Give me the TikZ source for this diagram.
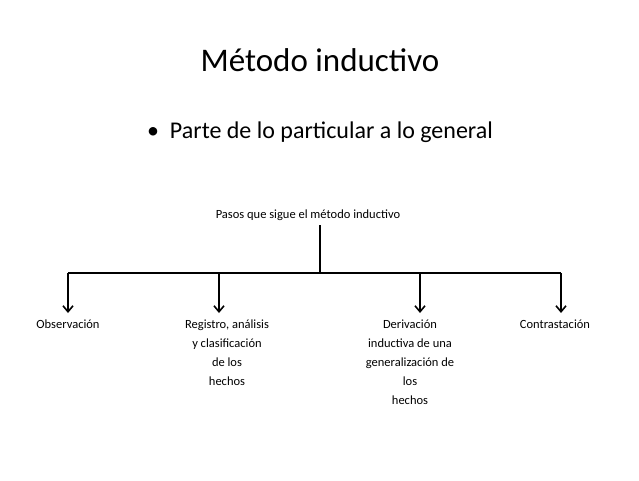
\documentclass[tikz,border=0pt]{standalone}
\usepackage{fontspec}
\setmainfont{Carlito}
\usetikzlibrary{arrows.meta}
\begin{document}
\begin{tikzpicture}[x=1pt,y=-1pt,
  lbl/.style={font=\fontsize{12.5}{19}\selectfont, align=center, anchor=north, inner sep=0pt},
  conn/.style={line width=1.8pt},
  arr/.style={conn, -{Straight Barb[length=6pt,width=10pt,line width=1.6pt]}}]
\useasboundingbox (0,0) rectangle (639,480);
\node (title) at (320,60) {\fontsize{33}{40}\selectfont Método inductivo};
\node (bullet) at (320,132) {\fontsize{24}{30}\selectfont •\ \ Parte de lo particular a lo general};
\node (pasos) at (308,215) {\fontsize{12.5}{15}\selectfont Pasos que sigue el método inductivo};
\coordinate (top) at (320,225);
\coordinate (mid) at (320,273);
\coordinate (hl) at (68,273);
\coordinate (hr) at (561,273);
\coordinate (a1) at (68,273); \coordinate (b1) at (68,313);
\coordinate (a2) at (219,273); \coordinate (b2) at (219,313);
\coordinate (a3) at (420,273); \coordinate (b3) at (420,313);
\coordinate (a4) at (561,273); \coordinate (b4) at (561,313);
\draw[conn] (top) -- (mid);
\draw[conn] (hl) -- (hr);
\draw[arr] (a1) -- (b1);
\draw[arr] (a2) -- (b2);
\draw[arr] (a3) -- (b3);
\draw[arr] (a4) -- (b4);
\node[lbl] (obs) at (68,320) {Observación};
\node[lbl] (reg) at (227,320) {Registro, análisis\\y clasificación\\de los\\hechos};
\node[lbl] (der) at (410,320) {Derivación\\inductiva de una\\generalización de\\los\\hechos};
\node[lbl] (con) at (555,320) {Contrastación};
\end{tikzpicture}
\end{document}
